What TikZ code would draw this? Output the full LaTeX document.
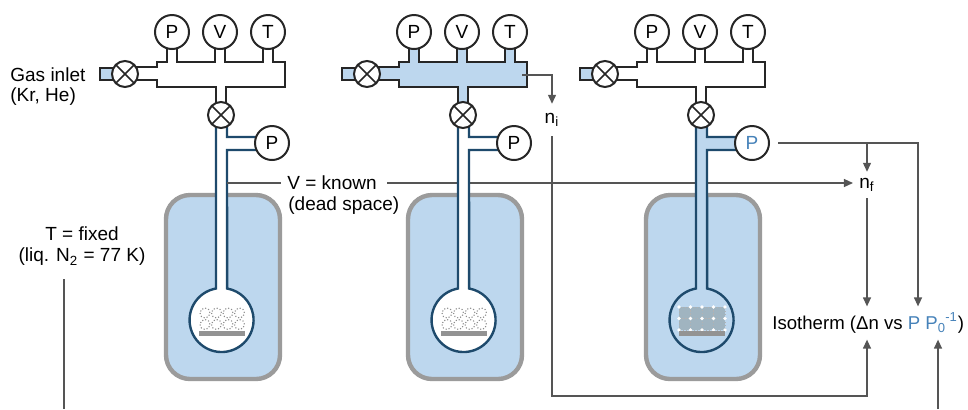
\documentclass[tikz,border=0pt]{standalone}
\usepackage{fontspec}
\setmainfont{Liberation Sans}
\usetikzlibrary{arrows.meta,backgrounds,calc}

\definecolor{paleblue}{RGB}{189,215,238}
\definecolor{pipeblue}{RGB}{30,74,108}
\definecolor{dewargray}{RGB}{155,155,155}
\definecolor{flowgray}{RGB}{85,85,85}
\definecolor{ptblue}{RGB}{70,130,185}
\definecolor{filmgray}{RGB}{160,180,192}

\tikzset{
    manifold/.style={draw=black!85,line width=1pt},
    gauge/.style={circle,draw=black!85,line width=1pt,fill=white,minimum size=17pt,inner sep=0pt},
    valve/.style={circle,draw=black!85,line width=1pt,fill=white,minimum size=13pt,inner sep=0pt,
        path picture={\draw[black!85,line width=0.8pt]
            (path picture bounding box.south west) -- (path picture bounding box.north east)
            (path picture bounding box.north west) -- (path picture bounding box.south east);}},
    dewar/.style={draw=dewargray,line width=2.2pt,fill=paleblue,rounded corners=12pt},
    pipe/.style={draw=pipeblue,line width=1.2pt},
    cell/.style={draw=gray!90,densely dotted,line width=0.55pt,rounded corners=2.5pt},
    film/.style={draw=gray!60,densely dotted,line width=0.5pt,fill=filmgray},
    label/.style={inner sep=0pt},
    link/.style={draw=flowgray,line width=0.65pt},
    flow/.style={link,-{Triangle[length=4.5pt,width=4pt]}}
}

\begin{document}
\begin{tikzpicture}[x=0.5pt,y=-0.5pt,font=\fontsize{9.5}{11.5}\selectfont]
\useasboundingbox (0,0) rectangle (968,409);

% the three stages of the measurement
\foreach \n/\dx/\mfill/\pfill/\pcol in {1/0/white/white/black,2/242/paleblue/white/black,3/480/white/paleblue/ptblue}{
\begin{scope}[shift={(\dx,0)}]
    \draw[dewar] (166,195) rectangle (280,379);
    % sample tube with side arm to the gauge
    \draw[pipe,fill=\pfill] (216,120) -- (216,288.5) arc[start angle=260,end angle=-80,radius=32]
        -- (227,150) -- (262,150) -- (262,137) -- (227,137) -- (227,120) -- cycle;
    % manifold
    \draw[manifold,fill=\mfill] (130,67) -- (157,67) -- (157,62) -- (167,62) -- (167,40) -- (177,40)
        -- (177,62) -- (215,62) -- (215,40) -- (225,40) -- (225,62) -- (263,62) -- (263,40)
        -- (273,40) -- (273,62) -- (285,62) -- (285,87) -- (226,87) -- (226,108) -- (216,108)
        -- (216,87) -- (157,87) -- (157,80) -- (130,80) -- cycle;
    \draw[manifold,fill=paleblue] (100,68) rectangle (114,80);
    \node[gauge] (p\n) at (172,32) {P};
    \node[gauge] (v\n) at (220,32) {V};
    \node[gauge] (t\n) at (268,32) {T};
    \node[gauge,text=\pcol] (q\n) at (272,143) {P};
    \node[valve] (iv\n) at (125,74) {};
    \node[valve] (ov\n) at (221,115) {};
    % adsorbent on its support
    \ifnum\n=3
        \foreach \i in {0,...,3}
            \foreach \j in {0,1}
                \draw[film] ({199+11.5*\i},{307+11.5*\j}) rectangle +(11.5,11.5);
        \foreach \i in {0,...,4}
            \foreach \j in {0,1,2}
                \fill[white] ({199+11.5*\i},{307+11.5*\j}) circle (0.9pt);
    \else
        \foreach \i in {0,...,3}
            \foreach \j in {0,1}
                \draw[cell] ({200+11.5*\i},{308+11.5*\j}) rectangle +(10,10);
    \fi
    \fill[gray!85] (199,331) rectangle (245,336);
    \coordinate (mani\n) at (280,75);
    \coordinate (stem\n) at (227,183);
\end{scope}
}

% labels
\node[label,anchor=west] (gas) at (10,75) {Gas inlet};
\node[label,anchor=west] (krhe) at (10,97) {(Kr, He)};
\node[label,anchor=west] (vk) at (287,183) {V = known};
\node[label,anchor=west] (ds) at (288,206) {(dead space)};
\node[label] (tf) at (82,234) {T = fixed};
\node[label] (liq) at (82,257) {(liq. N\textsubscript{2} = 77 K)};
\node[inner sep=4.5pt] (ni) at (552,120) {n\textsubscript{i}};
\node[inner sep=3pt] (nf) at (867,185) {n\textsubscript{f}};
\node[inner sep=3pt,anchor=west,font=\fontsize{9.3}{11}\selectfont] (iso) at (766,323)
    {Isotherm (Δn vs \textcolor{ptblue}{P P\textsubscript{0}\kern-0.4pt\textsuperscript{-1}})};

\coordinate (bot) at (0,396);
\coordinate (pp) at (918,323);
\coordinate (pz) at (938,409);
\coordinate (tl) at (64,279);

% connections
\begin{scope}[on background layer]
\draw[flow] ([xshift=5pt]vk.east) -- (vk.east -| nf.west);
\end{scope}
\draw[link] (stem1) -- ([xshift=-3pt]vk.west);
\draw[flow] (mani2) -| (ni.north);
\draw[flow] (ni.south) |- (nf.south |- bot) -- (nf.south |- iso.south);
\draw[flow] ([xshift=4pt]q3.east) -| (pp |- iso.north);
\draw[flow] (nf.north |- q3.east) -- (nf.north);
\draw[flow] (nf.south) -- (nf.south |- iso.north);
\draw[flow] (pz) -- (pz |- iso.south);
\draw[link] (tl) -- (tl |- pz);
\end{tikzpicture}
\end{document}
